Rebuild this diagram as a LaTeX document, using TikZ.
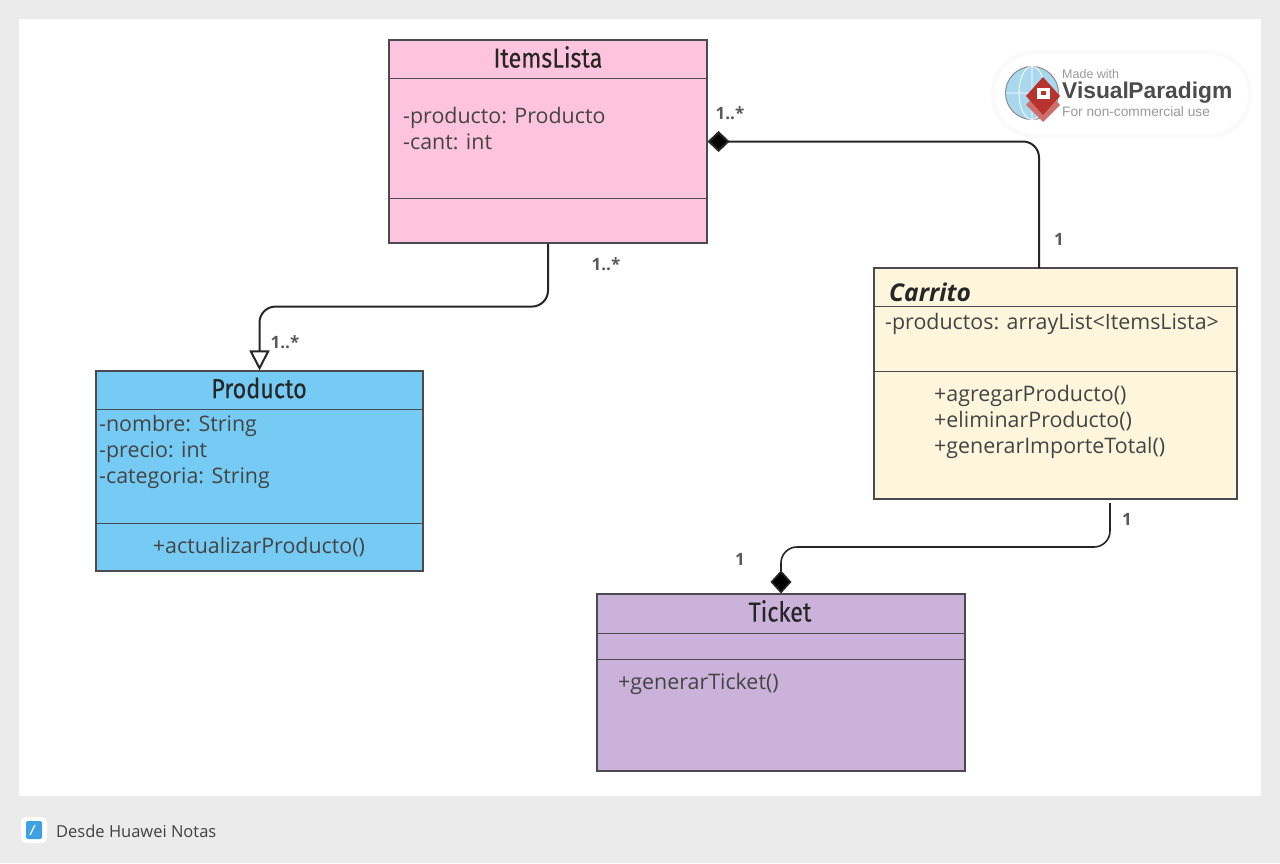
\documentclass[tikz,border=0pt]{standalone}
\usepackage{fontspec}
\usepackage{tikz}
\usetikzlibrary{arrows.meta}
\setmainfont{Open Sans}
\newfontfamily\titlefont[FakeStretch=0.85,FakeBold=0.3]{Fira Sans}
\newfontfamily\logofont{Liberation Sans}
\definecolor{fondo}{HTML}{EBEBEB}
\definecolor{rosa}{HTML}{FFC4DD}
\definecolor{celeste}{HTML}{75CBF4}
\definecolor{crema}{HTML}{FDF6DC}
\definecolor{lila}{HTML}{CBB2DB}
\definecolor{texto}{HTML}{444444}
\definecolor{borde}{HTML}{4A4A50}
\definecolor{globo}{HTML}{A9D8EE}
\definecolor{rojo}{HTML}{B8332E}
\tikzset{
  clase/.style={draw=borde, line width=1.1pt, inner sep=0pt},
  titulo/.style={font=\titlefont\fontsize{27.5}{32}\selectfont, text=black!85, inner sep=0pt},
  cuerpo/.style={font=\fontsize{21.4}{26}\selectfont, text=texto, align=left, anchor=west, inner sep=0pt},
  multi/.style={font=\bfseries\fontsize{17}{20}\selectfont, text=black!65, inner sep=0pt},
  conector/.style={draw=black!85, line width=2pt, rounded corners=16pt},
}
\begin{document}
\begin{tikzpicture}[x=1pt,y=-1pt]
    \useasboundingbox (0,0) rectangle (1280,863);

    % Fondo
    \fill[fondo] (0,0) rectangle (1280,863);
    \fill[white] (19,19) rectangle (1261,796);

    % Clases
    \node[clase, fill=rosa, minimum width=318pt, minimum height=203pt] (itemsLista) at (548,141.5) {};
    \node[clase, fill=celeste, minimum width=327pt, minimum height=200pt] (producto) at (259.5,471) {};
    \node[clase, fill=crema, minimum width=363pt, minimum height=231pt] (carrito) at (1055.5,383.5) {};
    \node[clase, fill=lila, minimum width=368pt, minimum height=177pt] (ticket) at (781,682.5) {};

    % Separadores
    \foreach \c/\y in {itemsLista/78, itemsLista/198, producto/409, producto/523, carrito/306, carrito/371, ticket/633, ticket/659}
        \draw[draw=borde, line width=1pt] (\c.west |- 0,\y) -- (\c.east |- 0,\y);

    % ItemsLista
    \node[titulo] (itemsTitulo) at (548,57) {ItemsLista};
    \node[cuerpo] (itemsAtrib) at (403,128.5) {-producto: Producto\\-cant: int};

    % Producto
    \node[titulo] (productoTitulo) at (259,388) {Producto};
    \node[cuerpo] (productoAtrib) at (99,451.5) {-nombre: String\\-precio: int\\-categoria: String};
    \node[cuerpo, anchor=center] (productoMetodo) at (259,547) {+actualizarProducto()};

    % Carrito
    \node[titulo, anchor=west, font=\bfseries\itshape\fontsize{24.5}{28}\selectfont] (carritoTitulo) at (889,292.5) {Carrito};
    \node[cuerpo] (carritoAtrib) at (885,323.5) {-productos: arrayList<ItemsLista>};
    \node[cuerpo] (carritoMetodos) at (934,421.5) {+agregarProducto()\\+eliminarProducto()\\+generarImporteTotal()};

    % Ticket
    \node[titulo] (ticketTitulo) at (780,611) {Ticket};
    \node[cuerpo] (ticketMetodo) at (618,683.5) {+generarTicket()};

    % Conectores
    \coordinate (carritoArriba) at (1039,268);
    \coordinate (carritoAbajo) at (1110,503);
    \draw[conector, {Diamond[length=22pt,width=21pt,fill=black]}-] (itemsLista.east) -| (carritoArriba);
    \draw[conector, -{Triangle[open,length=20pt,width=20pt,fill=white]}] (itemsLista.south) -- ++(0,63) -| (producto.north);
    \draw[conector, line width=1.6pt, -{Diamond[length=23pt,width=21pt,fill=black]}] (carritoAbajo) -- ++(0,44) -| (ticket.north);

    % Multiplicidades
    \node[multi] (multiItems) at (730,113) {1..*};
    \node[multi] (multiCarrito) at (1059,239.5) {1};
    \node[multi] (multiItemsAbajo) at (606,264) {1..*};
    \node[multi] (multiProducto) at (285,342) {1..*};
    \node[multi] (multiCarritoAbajo) at (1127,519.5) {1};
    \node[multi] (multiTicket) at (740,559.5) {1};

    % Logo
    \fill[black!2] (991,50) [rounded corners=43pt] rectangle (1252,138);
    \fill[white, rounded corners=40pt] (995,54) rectangle (1248,134);
    \fill[globo, draw=black!45, line width=1pt] (1032,93) circle (26.5pt);
    \draw[white, line width=.8pt] (1032,66.5) -- (1032,119.5) (1005.5,93) -- (1058.5,93) (1032,93) ellipse (13pt and 26.5pt);
    \fill[rojo!70!white] (1043,85) -- (1060,105) -- (1043,122) -- (1026,105) -- cycle;
    \fill[rojo] (1043,77) -- (1060,96) -- (1043,115) -- (1026,96) -- cycle;
    \fill[white] (1037,88) rectangle (1050,99);
    \fill[rojo] (1041,91) rectangle (1046,95);
    \node[anchor=west, inner sep=0pt, text=black!40, font=\logofont\fontsize{12.5}{14}\selectfont] (logoHecho) at (1062,74) {Made with};
    \node[anchor=west, inner sep=0pt, text=black!70, font=\logofont\bfseries\fontsize{22.8}{28}\selectfont] (logoNombre) at (1062,93) {Visual\hspace{-.5pt}Paradigm};
    \node[anchor=west, inner sep=0pt, text=black!40, font=\logofont\fontsize{13.7}{14}\selectfont] (logoUso) at (1062,112) {For non-commercial use};

    % Pie
    \fill[white, rounded corners=5pt] (21,817) rectangle (47,843);
    \fill[blue!40!cyan!85!black!75, rounded corners=2pt] (26,821) rectangle (42,839);
    \draw[white, line width=1.2pt] (30,835) -- (35,825);
    \node[anchor=west, inner sep=0pt, text=black!75, font=\fontsize{16.5}{19}\selectfont] (pie) at (56,831) {Desde Huawei Notas};
\end{tikzpicture}
\end{document}
